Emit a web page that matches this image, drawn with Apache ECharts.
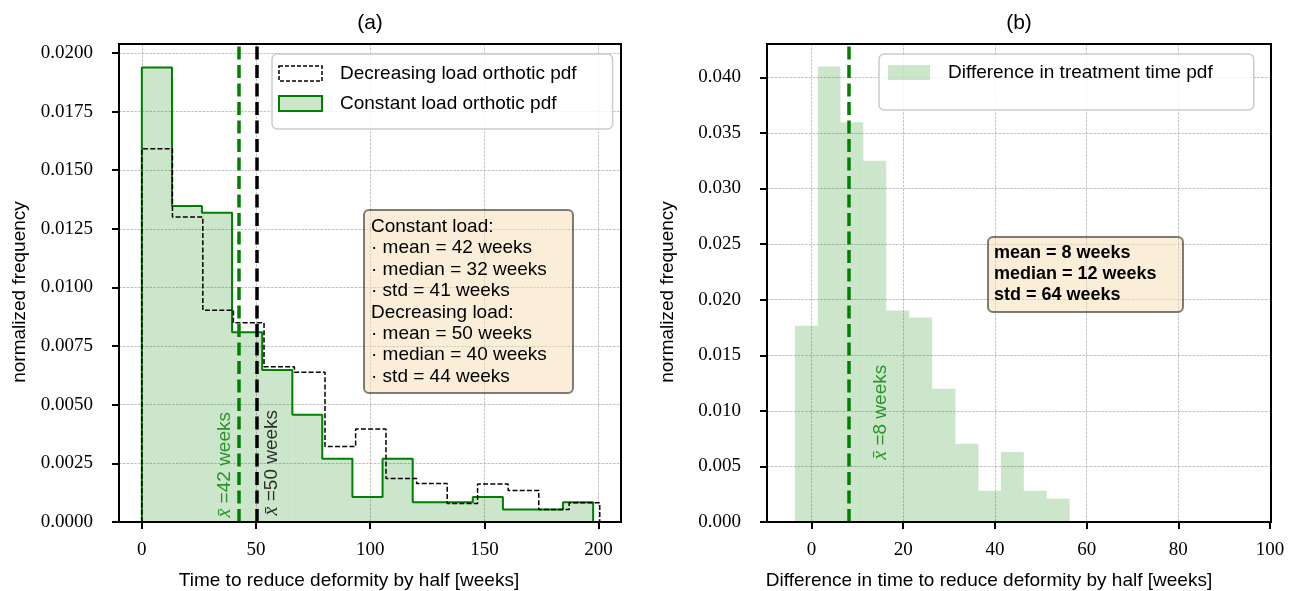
<!DOCTYPE html>
<html>
<head>
<meta charset="utf-8">
<script src="https://cdn.jsdelivr.net/npm/echarts@6/dist/echarts.min.js"></script>
<style>
html,body{margin:0;padding:0;background:#fff;}
#chart{width:1298px;height:591px;}
</style>
</head>
<body>
<div id="chart"></div>
<script>
// ---------------- data ----------------
// (a) constant load orthotic pdf: bin edges [weeks] and normalized frequency
const constEdges = [0, 13.2, 26.3, 39.5, 52.7, 65.9, 79.0, 92.2, 105.4, 118.6, 131.7, 144.9, 158.1, 171.3, 184.4, 197.6];
const constVals  = [0.01938, 0.01347, 0.01319, 0.00809, 0.00648, 0.00457, 0.00270, 0.00107, 0.00270, 0.00084, 0.00084, 0.00107, 0.00053, 0.00053, 0.00084];
// (a) decreasing load orthotic pdf
const decEdges = [0, 13.4, 26.7, 40.1, 53.5, 66.8, 80.2, 93.6, 106.9, 120.3, 133.7, 147.0, 160.4, 173.8, 187.1, 200.5];
const decVals  = [0.01591, 0.01300, 0.00903, 0.00849, 0.00662, 0.00639, 0.00322, 0.00396, 0.00185, 0.00164, 0.00079, 0.00162, 0.00134, 0.00053, 0.00082];
// (b) difference in treatment time pdf
const diffEdges = [-3.6, 1.4, 6.3, 11.3, 16.3, 21.3, 26.3, 31.4, 36.4, 41.3, 46.3, 51.3, 56.3];
const diffVals  = [0.01765, 0.04097, 0.03597, 0.03249, 0.01903, 0.01840, 0.01199, 0.00704, 0.00281, 0.00629, 0.00281, 0.00210];
// means (dashed vertical lines)
const meanConst = 42.3;
const meanDec = 50.2;
const meanDiff = 8.2;
// tick labels
const xTicksA = [0, 50, 100, 150, 200];
const yTicksA = [0, 0.0025, 0.005, 0.0075, 0.01, 0.0125, 0.015, 0.0175, 0.02];
const xTicksB = [0, 20, 40, 60, 80, 100];
const yTicksB = [0, 0.005, 0.01, 0.015, 0.02, 0.025, 0.03, 0.035, 0.04];
// texts
const titles = ['(a)', '(b)'];
const xNames = ['Time to reduce deformity by half [weeks]', 'Difference in time to reduce deformity by half [weeks]'];
const yName = 'normalized frequency';
const legendA = ['Decreasing load orthotic pdf', 'Constant load orthotic pdf'];
const legendB = 'Difference in treatment time pdf';
const statsA = ['Constant load:', '\u00b7 mean = 42 weeks', '\u00b7 median = 32 weeks', '\u00b7 std = 41 weeks',
                'Decreasing load:', '\u00b7 mean = 50 weeks', '\u00b7 median = 40 weeks', '\u00b7 std = 44 weeks'];
const statsB = ['mean = 8 weeks', 'median = 12 weeks', 'std = 64 weeks'];
const meanLabels = ['=42 weeks', '=50 weeks', '=8 weeks'];

// ---------------- layout / style ----------------
const SANS = '"Liberation Sans", Arial, sans-serif';
const SERIF = '"Liberation Serif", "Times New Roman", serif';
const GREEN = '#008000';
const FILL = 'rgba(0,128,0,0.2)';
const GRIDS = [
  { left: 119, top: 44, width: 502, height: 478 },
  { left: 767, top: 44, width: 504, height: 478 }
];

function rects(edges, vals) { return vals.map((v, i) => [edges[i], edges[i + 1], v]); }
function outline(edges, vals) {
  const pts = [[edges[0], 0]];
  vals.forEach((v, i) => { pts.push([edges[i], v]); pts.push([edges[i + 1], v]); });
  pts.push([edges[edges.length - 1], 0]);
  return pts;
}
function histRender(fill) {
  return function (params, api) {
    const a = api.coord([api.value(0), api.value(2)]);
    const b = api.coord([api.value(1), 0]);
    return { type: 'rect', shape: { x: a[0], y: a[1], width: b[0] - a[0], height: b[1] - a[1] },
             style: { fill: fill } };
  };
}
const gridLine = { show: true, lineStyle: { color: '#a8a8a8', width: 0.7, type: [2.6, 1.2] } };
function xAxisCfg(gi, min, max, ticks, name, padR) {
  return {
    type: 'value', gridIndex: gi, min: min, max: max,
    name: name, nameLocation: 'middle', nameGap: 49,
    nameTextStyle: { fontFamily: SANS, fontSize: 19, color: '#000', padding: [0, padR, 0, 0] },
    axisLine: { show: true, onZero: false, lineStyle: { color: '#000', width: 2 } },
    axisTick: { show: true, inside: false, length: 7, lineStyle: { color: '#000', width: 2 }, customValues: ticks },
    axisLabel: { customValues: ticks, fontFamily: SERIF, fontSize: 19, color: '#000', margin: 19 },
    splitLine: gridLine
  };
}
function yAxisCfg(gi, max, ticks, digits) {
  return {
    type: 'value', gridIndex: gi, min: 0, max: max,
    name: yName, nameLocation: 'middle', nameGap: 90,
    nameTextStyle: { fontFamily: SANS, fontSize: 19, color: '#000', padding: [0, 18, 0, 0] },
    axisLine: { show: true, onZero: false, lineStyle: { color: '#000', width: 2 } },
    axisTick: { show: true, inside: false, length: 7, lineStyle: { color: '#000', width: 2 }, customValues: ticks },
    axisLabel: { customValues: ticks, fontFamily: SERIF, fontSize: 19, color: '#000', margin: 26,
                 formatter: v => Number(v).toFixed(digits) },
    splitLine: gridLine
  };
}
function meanLine(x, color) {
  return { silent: true, symbol: ['none', 'none'], animation: false,
           label: { show: false }, emphasis: { disabled: true },
           lineStyle: { color: color, width: 3.5, type: [13, 5.5] },
           data: [{ xAxis: x }] };
}
function meanText(gi, x, y, text, color) {
  return {
    type: 'scatter', xAxisIndex: gi, yAxisIndex: gi, silent: true, z: 5,
    symbolSize: 1, itemStyle: { color: 'rgba(0,0,0,0)' },
    data: [[x, y]],
    label: { show: true, position: 'inside', rotate: 90, align: 'center', verticalAlign: 'middle',
             formatter: '{i|x\u0304} ' + text, color: color, fontFamily: SANS, fontSize: 19,
             rich: { i: { fontFamily: SERIF, fontStyle: 'italic', fontSize: 20, color: color } } }
  };
}
function frame(g) {
  return { type: 'rect', z: 200, silent: true,
           shape: { x: g.left, y: g.top, width: g.width, height: g.height },
           style: { fill: 'none', stroke: '#000', lineWidth: 2 } };
}

const chart = echarts.init(document.getElementById('chart'), null, { renderer: 'canvas' });
const option = {
  animation: false,
  backgroundColor: '#fff',
  title: [
    { text: titles[0], left: GRIDS[0].left + GRIDS[0].width / 2, top: 13, textAlign: 'center', padding: 0,
      textStyle: { fontFamily: SANS, fontSize: 21, fontWeight: 'normal', color: '#000' } },
    { text: titles[1], left: GRIDS[1].left + GRIDS[1].width / 2, top: 13, textAlign: 'center', padding: 0,
      textStyle: { fontFamily: SANS, fontSize: 21, fontWeight: 'normal', color: '#000' } }
  ],
  grid: GRIDS.map(g => Object.assign({ show: false, containLabel: false, outerBoundsMode: 'none' }, g)),
  xAxis: [
    xAxisCfg(0, -10, 209.8, xTicksA, xNames[0], 42),
    xAxisCfg(1, -9.7, 100.2, xTicksB, xNames[1], 60)
  ],
  yAxis: [
    yAxisCfg(0, 0.02038, yTicksA, 4),
    yAxisCfg(1, 0.043, yTicksB, 3)
  ],
  legend: [
    { left: 272, top: 54, orient: 'vertical', selectedMode: false,
      itemWidth: 43, itemHeight: 15, itemGap: 11, padding: [10, 36, 16, 6],
      backgroundColor: 'rgba(255,255,255,0.8)', borderColor: '#cccccc', borderWidth: 1.5, borderRadius: 5,
      textStyle: { fontFamily: SANS, fontSize: 19, color: '#000', padding: [0, 0, 0, 13] },
      data: [
        { name: legendA[0], icon: 'rect', itemStyle: { color: 'rgba(0,0,0,0)', borderColor: '#000', borderWidth: 1.5, borderType: [4, 2] } },
        { name: legendA[1], icon: 'rect', itemStyle: { color: FILL, borderColor: GREEN, borderWidth: 2 } }
      ] },
    { left: 879, top: 54, orient: 'vertical', selectedMode: false,
      itemWidth: 42, itemHeight: 15, padding: [9, 41, 28, 9],
      backgroundColor: 'rgba(255,255,255,0.8)', borderColor: '#cccccc', borderWidth: 1.5, borderRadius: 5,
      textStyle: { fontFamily: SANS, fontSize: 19, color: '#000', padding: [0, 0, 0, 13] },
      data: [ { name: legendB, icon: 'rect', itemStyle: { color: FILL, borderWidth: 0 } } ] }
  ],
  series: [
    { name: legendA[1], type: 'custom', xAxisIndex: 0, yAxisIndex: 0, silent: true, z: 1,
      itemStyle: { color: FILL }, renderItem: histRender(FILL),
      encode: { x: [0, 1], y: 2 }, data: rects(constEdges, constVals) },
    { name: 'constOutline', type: 'line', xAxisIndex: 0, yAxisIndex: 0, silent: true, z: 2,
      showSymbol: false, symbol: 'none', lineStyle: { color: GREEN, width: 2 },
      data: outline(constEdges, constVals), markLine: meanLine(meanConst, GREEN) },
    { name: legendA[0], type: 'line', xAxisIndex: 0, yAxisIndex: 0, silent: true, z: 3,
      showSymbol: false, symbol: 'none', itemStyle: { color: '#000' },
      lineStyle: { color: '#000', width: 1.5, type: [5, 2.2] },
      data: outline(decEdges, decVals), markLine: meanLine(meanDec, '#000') },
    meanText(0, meanConst - 6, 0.00244, meanLabels[0], GREEN),
    meanText(0, meanDec + 6.7, 0.00253, meanLabels[1], '#000'),
    { name: legendB, type: 'custom', xAxisIndex: 1, yAxisIndex: 1, silent: true, z: 1,
      itemStyle: { color: FILL }, renderItem: histRender(FILL),
      encode: { x: [0, 1], y: 2 }, data: rects(diffEdges, diffVals),
      markLine: meanLine(meanDiff, GREEN) },
    meanText(1, meanDiff + 6.8, 0.00987, meanLabels[2], GREEN)
  ],
  graphic: [
    frame(GRIDS[0]), frame(GRIDS[1]),
    { type: 'rect', z: 100, shape: { x: 364, y: 210, width: 209, height: 183, r: 5 },
      style: { fill: 'rgba(245,222,179,0.5)', stroke: 'rgba(0,0,0,0.5)', lineWidth: 2 } },
    { type: 'text', z: 101, x: 371, y: 216,
      style: { text: statsA.join('\n'), fontFamily: SANS, fontSize: 19, lineHeight: 21.4,
               fill: '#000', align: 'left', verticalAlign: 'top' } },
    { type: 'rect', z: 100, shape: { x: 988, y: 237, width: 195, height: 75, r: 5 },
      style: { fill: 'rgba(245,222,179,0.5)', stroke: 'rgba(0,0,0,0.5)', lineWidth: 2 } },
    { type: 'text', z: 101, x: 994, y: 243,
      style: { text: statsB.join('\n'), fontFamily: SANS, fontSize: 18, fontWeight: 'bold', lineHeight: 21,
               fill: '#000', align: 'left', verticalAlign: 'top' } }
  ]
};
chart.setOption(option);
</script>
</body>
</html>
